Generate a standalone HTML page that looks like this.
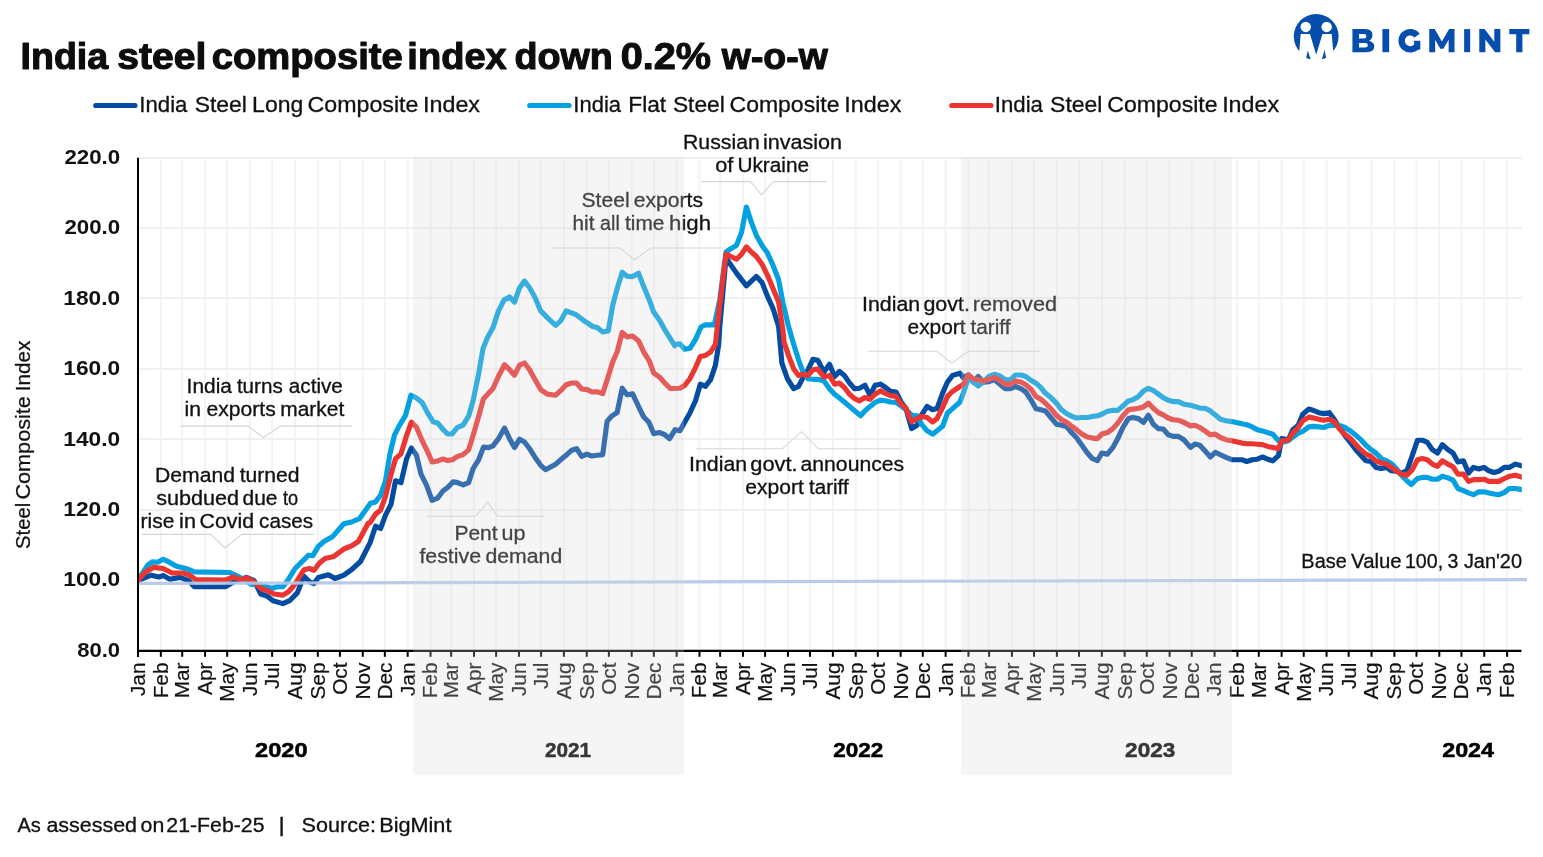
<!DOCTYPE html><html><head><meta charset="utf-8"><title>India steel composite index</title>
<style>html,body{margin:0;padding:0;background:#fff;}svg{display:block}text{font-family:"Liberation Sans",sans-serif;}</style></head><body>
<svg style="will-change:transform" width="1543" height="857" viewBox="0 0 1543 857">
<rect width="1543" height="857" fill="#fff"/>
<text x="20.6" y="69.4" font-size="37.5" font-weight="700" text-anchor="start" fill="#0d0d0d" textLength="87.56" lengthAdjust="spacingAndGlyphs" stroke="#0d0d0d" stroke-width="1.1" stroke-linejoin="round">India</text>
<text x="117.26" y="69.4" font-size="37.5" font-weight="700" text-anchor="start" fill="#0d0d0d" textLength="89.06" lengthAdjust="spacingAndGlyphs" stroke="#0d0d0d" stroke-width="1.1" stroke-linejoin="round">steel</text>
<text x="211.78" y="69.4" font-size="37.5" font-weight="700" text-anchor="start" fill="#0d0d0d" textLength="190.99" lengthAdjust="spacingAndGlyphs" stroke="#0d0d0d" stroke-width="1.1" stroke-linejoin="round">composite</text>
<text x="407.37" y="69.4" font-size="37.5" font-weight="700" text-anchor="start" fill="#0d0d0d" textLength="99.38" lengthAdjust="spacingAndGlyphs" stroke="#0d0d0d" stroke-width="1.1" stroke-linejoin="round">index</text>
<text x="514.49" y="69.4" font-size="37.5" font-weight="700" text-anchor="start" fill="#0d0d0d" textLength="98.42" lengthAdjust="spacingAndGlyphs" stroke="#0d0d0d" stroke-width="1.1" stroke-linejoin="round">down</text>
<text x="620.74" y="69.4" font-size="37.5" font-weight="700" text-anchor="start" fill="#0d0d0d" textLength="90.42" lengthAdjust="spacingAndGlyphs" stroke="#0d0d0d" stroke-width="1.1" stroke-linejoin="round">0.2%</text>
<text x="721.8" y="69.4" font-size="37.5" font-weight="700" text-anchor="start" fill="#0d0d0d" textLength="105.97" lengthAdjust="spacingAndGlyphs" stroke="#0d0d0d" stroke-width="1.1" stroke-linejoin="round">w-o-w</text>
<line x1="95.7" y1="105.45" x2="135.0" y2="105.45" stroke="#034ca1" stroke-width="5.1" stroke-linecap="round"/>
<text x="139.25" y="112" font-size="21.7" font-weight="400" text-anchor="start" fill="#111" textLength="48.19" lengthAdjust="spacingAndGlyphs" stroke="#111" stroke-width="0.3">India</text>
<text x="194.7" y="112" font-size="21.7" font-weight="400" text-anchor="start" fill="#111" textLength="52.27" lengthAdjust="spacingAndGlyphs" stroke="#111" stroke-width="0.3">Steel</text>
<text x="252.14" y="112" font-size="21.7" font-weight="400" text-anchor="start" fill="#111" textLength="51.19" lengthAdjust="spacingAndGlyphs" stroke="#111" stroke-width="0.3">Long</text>
<text x="307.63" y="112" font-size="21.7" font-weight="400" text-anchor="start" fill="#111" textLength="110.84" lengthAdjust="spacingAndGlyphs" stroke="#111" stroke-width="0.3">Composite</text>
<text x="423.05" y="112" font-size="21.7" font-weight="400" text-anchor="start" fill="#111" textLength="56.98" lengthAdjust="spacingAndGlyphs" stroke="#111" stroke-width="0.3">Index</text>
<line x1="529.7" y1="105.45" x2="569.1" y2="105.45" stroke="#03a1e1" stroke-width="5.1" stroke-linecap="round"/>
<text x="573.37" y="112" font-size="21.7" font-weight="400" text-anchor="start" fill="#111" textLength="47.68" lengthAdjust="spacingAndGlyphs" stroke="#111" stroke-width="0.3">India</text>
<text x="628.25" y="112" font-size="21.7" font-weight="400" text-anchor="start" fill="#111" textLength="37.87" lengthAdjust="spacingAndGlyphs" stroke="#111" stroke-width="0.3">Flat</text>
<text x="672.9" y="112" font-size="21.7" font-weight="400" text-anchor="start" fill="#111" textLength="51.96" lengthAdjust="spacingAndGlyphs" stroke="#111" stroke-width="0.3">Steel</text>
<text x="729.54" y="112" font-size="21.7" font-weight="400" text-anchor="start" fill="#111" textLength="109.93" lengthAdjust="spacingAndGlyphs" stroke="#111" stroke-width="0.3">Composite</text>
<text x="844.35" y="112" font-size="21.7" font-weight="400" text-anchor="start" fill="#111" textLength="56.98" lengthAdjust="spacingAndGlyphs" stroke="#111" stroke-width="0.3">Index</text>
<line x1="951.7" y1="105.45" x2="991.0" y2="105.45" stroke="#ea3531" stroke-width="5.1" stroke-linecap="round"/>
<text x="994.75" y="112" font-size="21.7" font-weight="400" text-anchor="start" fill="#111" textLength="48.19" lengthAdjust="spacingAndGlyphs" stroke="#111" stroke-width="0.3">India</text>
<text x="1050.1" y="112" font-size="21.7" font-weight="400" text-anchor="start" fill="#111" textLength="52.37" lengthAdjust="spacingAndGlyphs" stroke="#111" stroke-width="0.3">Steel</text>
<text x="1107.34" y="112" font-size="21.7" font-weight="400" text-anchor="start" fill="#111" textLength="110.23" lengthAdjust="spacingAndGlyphs" stroke="#111" stroke-width="0.3">Composite</text>
<text x="1222.15" y="112" font-size="21.7" font-weight="400" text-anchor="start" fill="#111" textLength="56.98" lengthAdjust="spacingAndGlyphs" stroke="#111" stroke-width="0.3">Index</text>
<line x1="160.84" y1="157" x2="160.84" y2="649.5" stroke="#f3f3f3" stroke-width="1.9"/>
<line x1="182.21" y1="157" x2="182.21" y2="649.5" stroke="#f3f3f3" stroke-width="1.9"/>
<line x1="205.06" y1="157" x2="205.06" y2="649.5" stroke="#f3f3f3" stroke-width="1.9"/>
<line x1="227.16" y1="157" x2="227.16" y2="649.5" stroke="#f3f3f3" stroke-width="1.9"/>
<line x1="250.00" y1="157" x2="250.00" y2="649.5" stroke="#f3f3f3" stroke-width="1.9"/>
<line x1="272.11" y1="157" x2="272.11" y2="649.5" stroke="#f3f3f3" stroke-width="1.9"/>
<line x1="294.95" y1="157" x2="294.95" y2="649.5" stroke="#f3f3f3" stroke-width="1.9"/>
<line x1="317.80" y1="157" x2="317.80" y2="649.5" stroke="#f3f3f3" stroke-width="1.9"/>
<line x1="339.90" y1="157" x2="339.90" y2="649.5" stroke="#f3f3f3" stroke-width="1.9"/>
<line x1="362.75" y1="157" x2="362.75" y2="649.5" stroke="#f3f3f3" stroke-width="1.9"/>
<line x1="384.85" y1="157" x2="384.85" y2="649.5" stroke="#f3f3f3" stroke-width="1.9"/>
<line x1="407.69" y1="157" x2="407.69" y2="649.5" stroke="#f3f3f3" stroke-width="1.9"/>
<line x1="430.54" y1="157" x2="430.54" y2="649.5" stroke="#f3f3f3" stroke-width="1.9"/>
<line x1="451.17" y1="157" x2="451.17" y2="649.5" stroke="#f3f3f3" stroke-width="1.9"/>
<line x1="474.01" y1="157" x2="474.01" y2="649.5" stroke="#f3f3f3" stroke-width="1.9"/>
<line x1="496.12" y1="157" x2="496.12" y2="649.5" stroke="#f3f3f3" stroke-width="1.9"/>
<line x1="518.96" y1="157" x2="518.96" y2="649.5" stroke="#f3f3f3" stroke-width="1.9"/>
<line x1="541.07" y1="157" x2="541.07" y2="649.5" stroke="#f3f3f3" stroke-width="1.9"/>
<line x1="563.91" y1="157" x2="563.91" y2="649.5" stroke="#f3f3f3" stroke-width="1.9"/>
<line x1="586.75" y1="157" x2="586.75" y2="649.5" stroke="#f3f3f3" stroke-width="1.9"/>
<line x1="608.86" y1="157" x2="608.86" y2="649.5" stroke="#f3f3f3" stroke-width="1.9"/>
<line x1="631.70" y1="157" x2="631.70" y2="649.5" stroke="#f3f3f3" stroke-width="1.9"/>
<line x1="653.81" y1="157" x2="653.81" y2="649.5" stroke="#f3f3f3" stroke-width="1.9"/>
<line x1="676.65" y1="157" x2="676.65" y2="649.5" stroke="#f3f3f3" stroke-width="1.9"/>
<line x1="699.49" y1="157" x2="699.49" y2="649.5" stroke="#f3f3f3" stroke-width="1.9"/>
<line x1="720.13" y1="157" x2="720.13" y2="649.5" stroke="#f3f3f3" stroke-width="1.9"/>
<line x1="742.97" y1="157" x2="742.97" y2="649.5" stroke="#f3f3f3" stroke-width="1.9"/>
<line x1="765.08" y1="157" x2="765.08" y2="649.5" stroke="#f3f3f3" stroke-width="1.9"/>
<line x1="787.92" y1="157" x2="787.92" y2="649.5" stroke="#f3f3f3" stroke-width="1.9"/>
<line x1="810.03" y1="157" x2="810.03" y2="649.5" stroke="#f3f3f3" stroke-width="1.9"/>
<line x1="832.87" y1="157" x2="832.87" y2="649.5" stroke="#f3f3f3" stroke-width="1.9"/>
<line x1="855.71" y1="157" x2="855.71" y2="649.5" stroke="#f3f3f3" stroke-width="1.9"/>
<line x1="877.82" y1="157" x2="877.82" y2="649.5" stroke="#f3f3f3" stroke-width="1.9"/>
<line x1="900.66" y1="157" x2="900.66" y2="649.5" stroke="#f3f3f3" stroke-width="1.9"/>
<line x1="922.77" y1="157" x2="922.77" y2="649.5" stroke="#f3f3f3" stroke-width="1.9"/>
<line x1="945.61" y1="157" x2="945.61" y2="649.5" stroke="#f3f3f3" stroke-width="1.9"/>
<line x1="968.45" y1="157" x2="968.45" y2="649.5" stroke="#f3f3f3" stroke-width="1.9"/>
<line x1="989.08" y1="157" x2="989.08" y2="649.5" stroke="#f3f3f3" stroke-width="1.9"/>
<line x1="1011.93" y1="157" x2="1011.93" y2="649.5" stroke="#f3f3f3" stroke-width="1.9"/>
<line x1="1034.03" y1="157" x2="1034.03" y2="649.5" stroke="#f3f3f3" stroke-width="1.9"/>
<line x1="1056.88" y1="157" x2="1056.88" y2="649.5" stroke="#f3f3f3" stroke-width="1.9"/>
<line x1="1078.98" y1="157" x2="1078.98" y2="649.5" stroke="#f3f3f3" stroke-width="1.9"/>
<line x1="1101.83" y1="157" x2="1101.83" y2="649.5" stroke="#f3f3f3" stroke-width="1.9"/>
<line x1="1124.67" y1="157" x2="1124.67" y2="649.5" stroke="#f3f3f3" stroke-width="1.9"/>
<line x1="1146.78" y1="157" x2="1146.78" y2="649.5" stroke="#f3f3f3" stroke-width="1.9"/>
<line x1="1169.62" y1="157" x2="1169.62" y2="649.5" stroke="#f3f3f3" stroke-width="1.9"/>
<line x1="1191.72" y1="157" x2="1191.72" y2="649.5" stroke="#f3f3f3" stroke-width="1.9"/>
<line x1="1214.57" y1="157" x2="1214.57" y2="649.5" stroke="#f3f3f3" stroke-width="1.9"/>
<line x1="1237.41" y1="157" x2="1237.41" y2="649.5" stroke="#f3f3f3" stroke-width="1.9"/>
<line x1="1258.78" y1="157" x2="1258.78" y2="649.5" stroke="#f3f3f3" stroke-width="1.9"/>
<line x1="1281.62" y1="157" x2="1281.62" y2="649.5" stroke="#f3f3f3" stroke-width="1.9"/>
<line x1="1303.73" y1="157" x2="1303.73" y2="649.5" stroke="#f3f3f3" stroke-width="1.9"/>
<line x1="1326.57" y1="157" x2="1326.57" y2="649.5" stroke="#f3f3f3" stroke-width="1.9"/>
<line x1="1348.68" y1="157" x2="1348.68" y2="649.5" stroke="#f3f3f3" stroke-width="1.9"/>
<line x1="1371.52" y1="157" x2="1371.52" y2="649.5" stroke="#f3f3f3" stroke-width="1.9"/>
<line x1="1394.36" y1="157" x2="1394.36" y2="649.5" stroke="#f3f3f3" stroke-width="1.9"/>
<line x1="1416.47" y1="157" x2="1416.47" y2="649.5" stroke="#f3f3f3" stroke-width="1.9"/>
<line x1="1439.31" y1="157" x2="1439.31" y2="649.5" stroke="#f3f3f3" stroke-width="1.9"/>
<line x1="1461.42" y1="157" x2="1461.42" y2="649.5" stroke="#f3f3f3" stroke-width="1.9"/>
<line x1="1484.26" y1="157" x2="1484.26" y2="649.5" stroke="#f3f3f3" stroke-width="1.9"/>
<line x1="1507.10" y1="157" x2="1507.10" y2="649.5" stroke="#f3f3f3" stroke-width="1.9"/>
<line x1="138.0" y1="510" x2="1521.5" y2="510" stroke="#f0f0f0" stroke-width="2"/>
<line x1="138.0" y1="439" x2="1521.5" y2="439" stroke="#f0f0f0" stroke-width="2"/>
<line x1="138.0" y1="369" x2="1521.5" y2="369" stroke="#f0f0f0" stroke-width="2"/>
<line x1="138.0" y1="298" x2="1521.5" y2="298" stroke="#f0f0f0" stroke-width="2"/>
<line x1="138.0" y1="228" x2="1521.5" y2="228" stroke="#f0f0f0" stroke-width="2"/>
<line x1="138.0" y1="158" x2="1521.5" y2="158" stroke="#f0f0f0" stroke-width="2"/>
<clipPath id="pc"><rect x="138" y="150" width="1383.8" height="500"/></clipPath><g clip-path="url(#pc)">
<polyline points="137.8,580.7 151.1,575.2 158.8,577.0 163.2,575.6 169.9,579.2 179.9,577.4 188.7,580.7 194.3,586.7 225.3,586.7 234.2,581.8 246.4,577.4 254.1,580.7 260.8,594.0 267.4,596.2 273.0,600.7 282.9,603.6 289.6,600.7 297.3,592.9 304.0,576.3 309.5,581.8 314.0,583.6 318.4,577.4 328.4,574.8 335.0,578.5 343.9,575.2 351.6,569.7 360.5,561.5 370.0,542.9 375.5,526.2 380.6,528.5 385.5,515.2 391.1,504.1 395.5,480.8 401.0,482.6 406.6,458.7 411.4,448.0 416.5,455.3 421.0,474.2 426.5,485.2 432.1,500.3 437.6,498.1 443.1,490.8 447.6,487.5 453.1,481.9 457.5,482.6 463.1,484.8 468.6,482.6 473.1,468.6 478.6,459.8 483.5,447.1 488.6,447.6 493.0,445.8 498.5,438.7 504.5,428.1 509.6,438.7 514.5,447.6 519.6,439.1 524.5,442.0 529.6,448.7 535.1,457.5 540.7,465.3 545.5,469.7 555.7,464.2 560.6,459.8 566.1,455.3 571.7,450.2 576.6,448.7 581.7,456.4 586.8,454.2 591.6,456.0 597.2,455.3 602.7,454.7 607.1,421.4 611.6,416.1 617.1,412.6 622.2,388.2 627.1,394.8 632.6,393.9 638.6,406.6 643.7,417.0 648.8,422.1 653.7,433.6 659.2,432.5 664.8,434.7 669.6,438.7 675.1,429.7 679.9,430.8 684.8,421.9 689.9,413.0 695.5,400.8 700.3,384.2 705.4,386.4 710.5,379.8 715.4,365.4 718.7,344.3 719.8,326.3 726.0,258.0 736.5,273.1 746.4,285.9 756.4,276.4 762.0,282.4 767.5,296.4 773.0,308.5 778.6,326.3 781.9,363.2 787.4,378.7 793.6,388.7 798.5,386.4 803.0,377.6 808.0,369.8 812.9,359.4 817.8,360.3 824.0,372.0 829.5,364.3 834.6,376.5 839.5,371.4 844.4,375.4 849.5,383.1 854.6,388.7 859.5,388.2 865.0,385.3 870.1,395.3 875.0,385.3 880.5,384.2 885.6,387.5 890.5,391.3 896.0,392.0 901.1,402.0 906.0,408.6 911.6,428.5 917.1,425.2 921.5,415.2 927.1,406.4 932.6,409.7 937.0,408.6 942.6,393.1 947.5,382.0 952.6,375.4 960.0,373.2 963.3,377.6 968.4,375.0 973.3,382.1 978.2,376.5 983.3,382.1 988.8,381.6 994.4,379.8 999.9,384.3 1005.4,388.7 1010.5,388.7 1015.4,386.5 1020.9,388.7 1025.8,392.0 1030.9,399.8 1036.0,408.7 1040.9,409.8 1045.3,410.9 1050.9,417.5 1056.4,424.2 1061.5,425.3 1066.4,426.4 1071.9,433.0 1076.4,437.5 1081.9,445.2 1087.4,453.0 1092.3,458.5 1097.4,460.7 1101.8,453.0 1107.4,454.1 1112.9,447.4 1117.8,438.6 1122.9,427.5 1128.4,418.6 1132.9,417.5 1138.4,418.6 1143.5,422.4 1148.4,415.3 1153.3,424.2 1158.4,428.6 1163.2,429.0 1168.3,434.8 1173.2,436.4 1178.3,436.4 1183.8,439.7 1190.5,447.4 1194.9,444.1 1199.8,445.2 1204.9,450.8 1210.4,457.0 1215.3,452.3 1220.4,454.8 1226.0,457.4 1231.8,459.7 1241.8,459.7 1246.7,461.5 1252.2,459.7 1257.3,459.2 1262.4,457.0 1267.7,459.2 1272.8,460.8 1278.4,455.7 1281.7,438.6 1288.3,439.7 1292.8,429.8 1298.3,425.3 1302.7,414.2 1308.9,409.1 1313.8,410.5 1318.7,412.7 1323.8,413.6 1329.3,412.7 1334.2,419.3 1339.3,427.5 1344.8,435.3 1350.4,442.4 1355.9,449.7 1360.8,455.2 1365.9,460.8 1371.0,461.5 1375.9,467.4 1381.4,468.5 1386.5,467.4 1391.4,470.8 1396.3,471.2 1401.4,473.0 1406.9,470.8 1412.4,455.2 1417.5,440.2 1422.4,440.2 1427.3,442.4 1432.4,449.7 1437.5,453.0 1442.4,444.6 1447.9,449.7 1453.0,453.0 1457.9,461.9 1463.4,460.8 1468.5,473.0 1473.4,467.4 1478.9,469.0 1484.0,467.4 1488.9,470.8 1493.8,472.5 1498.9,471.2 1504.4,467.4 1509.3,467.4 1515.5,464.1 1521.7,465.9" fill="none" stroke="#034ca1" stroke-width="5.15" stroke-linejoin="round" stroke-linecap="round"/>
<polyline points="137.8,580.7 147.7,565.2 152.2,561.9 157.7,562.3 163.2,559.2 168.8,561.9 176.5,566.3 187.6,569.0 194.3,571.9 229.7,572.5 236.4,575.6 244.1,579.6 250.8,584.1 260.8,585.2 271.8,588.5 277.4,586.7 282.9,586.7 288.5,579.2 295.1,568.5 301.8,561.9 308.4,555.2 312.8,555.7 318.4,546.4 323.9,541.5 332.8,536.4 343.9,523.8 351.6,522.0 359.4,518.7 370.5,503.2 375.5,501.9 380.6,495.2 385.5,480.8 389.9,454.2 394.4,435.4 398.8,426.5 405.5,415.4 411.0,395.2 416.5,398.0 422.1,402.5 427.6,412.9 433.2,421.8 437.6,422.9 443.1,429.5 447.6,434.0 452.0,434.0 457.5,427.3 463.1,425.1 468.6,416.2 473.1,400.7 478.6,374.1 483.0,348.6 487.5,337.5 493.0,327.6 498.5,310.9 504.1,299.9 509.6,297.0 514.5,302.1 519.6,287.7 524.5,281.0 529.6,287.7 535.1,297.7 540.7,310.9 547.3,317.6 555.7,325.4 560.6,320.9 566.1,310.9 576.1,314.7 582.8,319.8 592.7,326.5 597.2,327.6 602.7,332.0 608.3,330.9 612.7,305.4 617.1,288.8 622.2,272.2 627.1,276.2 632.6,276.6 638.6,273.3 643.7,286.6 649.3,299.9 653.7,312.1 659.2,319.8 664.8,329.8 670.3,338.7 674.7,345.7 675.5,344.3 679.9,343.9 684.8,349.2 689.9,348.3 695.5,339.5 701.0,327.0 705.4,324.8 714.3,324.8 719.8,299.7 726.0,252.0 730.9,248.7 736.5,245.4 741.6,232.1 746.4,207.0 751.3,222.1 756.4,235.4 762.0,245.4 767.5,253.1 773.0,265.3 778.6,279.7 783.0,303.0 788.5,326.3 793.0,342.1 798.5,359.8 803.0,372.0 808.0,378.7 812.9,379.3 817.8,379.3 824.0,380.9 829.5,388.7 834.6,394.2 839.5,398.0 844.4,402.0 849.5,406.4 854.6,410.8 860.6,415.7 865.0,410.8 870.1,406.4 875.0,402.4 880.5,400.2 885.6,400.8 890.5,402.0 896.0,402.4 901.1,405.9 906.0,409.7 911.6,415.2 917.1,415.7 921.5,424.1 927.1,430.8 932.6,434.1 937.0,430.8 942.6,426.3 947.5,413.0 952.6,408.6 960.0,402.0 963.3,393.1 968.4,377.6 973.3,382.1 978.2,386.0 983.3,382.1 988.8,376.5 994.4,374.3 999.9,375.9 1005.4,379.8 1010.5,379.8 1015.4,375.0 1020.9,375.0 1025.8,376.5 1030.9,380.3 1036.0,383.2 1040.9,387.6 1045.3,393.1 1050.9,397.6 1056.4,403.1 1061.5,409.8 1066.4,413.5 1071.9,416.4 1076.4,418.0 1081.9,417.5 1087.4,417.5 1092.3,416.4 1097.4,415.7 1101.8,414.2 1107.4,411.3 1112.9,410.4 1117.8,410.4 1122.9,406.0 1128.4,400.9 1132.9,399.8 1138.4,396.5 1143.5,390.9 1148.4,388.3 1153.3,390.5 1158.4,394.2 1163.2,397.6 1168.3,400.2 1173.2,401.6 1178.3,401.6 1183.8,404.2 1190.5,405.3 1194.9,406.4 1199.8,408.2 1204.9,408.2 1210.4,410.9 1215.3,414.9 1220.4,419.3 1226.0,420.8 1231.8,421.6 1241.8,423.8 1246.7,424.7 1252.2,426.9 1257.3,429.8 1262.4,430.9 1267.7,432.6 1272.8,434.2 1278.4,440.8 1281.7,442.4 1288.3,440.8 1292.8,437.1 1298.3,433.1 1302.7,431.3 1308.9,426.9 1313.8,426.4 1318.7,426.9 1323.8,427.5 1329.3,425.3 1334.2,425.3 1339.3,425.3 1344.8,427.5 1350.4,430.9 1355.9,435.3 1360.8,439.7 1365.9,445.3 1371.0,449.7 1375.9,453.0 1381.4,458.6 1386.5,460.8 1391.4,463.7 1396.3,468.5 1401.4,475.2 1406.9,480.7 1411.3,484.5 1417.5,478.5 1422.4,477.4 1427.3,477.4 1432.4,479.2 1437.5,479.2 1442.4,476.3 1447.9,477.9 1453.0,480.1 1457.9,488.5 1463.4,490.7 1468.5,492.9 1473.4,494.7 1478.9,491.8 1484.0,491.8 1488.9,492.9 1493.8,494.0 1498.9,494.7 1504.4,492.5 1509.3,488.5 1515.5,488.5 1521.7,489.6" fill="none" stroke="#03a1e1" stroke-width="5.15" stroke-linejoin="round" stroke-linecap="round"/>
<polyline points="137.8,580.7 145.5,571.9 153.3,567.4 163.2,568.5 172.1,573.0 183.2,573.0 189.8,575.2 195.4,579.6 225.3,580.1 233.1,577.0 240.8,579.6 246.4,577.9 254.1,581.8 260.8,588.5 267.4,590.7 274.1,594.0 282.9,595.1 288.5,591.8 295.1,584.1 304.0,569.7 309.5,568.5 314.0,570.3 319.5,563.0 325.0,558.6 333.9,556.4 343.9,549.0 351.6,545.9 358.3,541.5 368.3,523.1 370.0,522.9 375.5,514.1 380.6,510.1 385.5,496.3 391.1,474.2 395.5,458.7 401.0,453.8 406.6,435.4 411.4,422.1 416.5,427.2 422.1,440.5 427.2,450.9 432.1,462.0 437.6,460.9 442.7,459.1 447.6,460.4 452.4,459.8 457.5,456.4 463.1,454.7 468.6,449.8 473.1,435.4 478.6,416.5 483.5,398.8 493.0,388.5 498.5,376.3 504.5,364.8 509.6,369.7 514.5,375.2 519.6,365.2 524.5,363.0 529.6,369.7 535.1,379.7 540.7,389.6 547.3,394.1 555.7,395.2 560.6,390.7 566.1,384.8 571.7,383.0 576.6,383.0 581.7,389.0 587.2,389.6 591.6,391.8 597.2,391.8 602.7,393.6 608.3,376.3 612.7,361.9 617.1,352.0 622.2,332.4 627.1,336.9 632.6,336.0 638.6,340.9 643.7,352.0 649.3,360.8 653.7,373.0 659.2,376.8 664.8,383.0 670.3,388.5 679.9,388.2 684.8,385.3 689.9,378.7 695.5,367.6 700.3,356.5 705.4,355.4 710.5,352.1 715.4,344.3 719.8,304.1 726.0,254.2 730.9,256.5 736.5,259.3 741.6,254.2 746.4,246.9 751.3,252.0 756.4,256.5 762.0,264.2 767.5,275.3 773.0,288.6 778.6,301.9 783.0,330.7 784.1,342.1 788.5,355.4 793.6,368.7 798.5,375.4 803.0,374.2 808.0,375.4 812.9,369.8 817.8,369.1 824.0,377.1 829.5,375.4 834.6,384.2 839.5,383.1 844.4,387.5 849.5,394.2 854.6,398.6 859.5,400.8 865.0,397.5 870.1,399.3 875.0,394.2 880.5,390.9 885.6,393.5 890.5,395.7 896.0,396.4 901.1,404.2 906.0,408.2 911.6,421.9 917.1,418.6 921.5,416.4 927.1,417.5 932.6,421.9 937.0,418.6 942.6,407.5 947.5,396.4 952.6,391.3 960.0,386.5 963.3,384.3 968.4,375.0 973.3,378.7 978.2,379.8 983.3,380.9 988.8,379.4 994.4,377.6 999.9,380.3 1005.4,384.3 1010.5,384.3 1015.4,380.9 1020.9,382.1 1025.8,384.7 1030.9,389.1 1036.0,396.5 1040.9,399.3 1045.3,403.1 1050.9,408.7 1056.4,415.3 1061.5,419.7 1066.4,422.0 1071.9,426.4 1076.4,429.7 1081.9,434.1 1087.4,437.0 1092.3,438.1 1097.4,438.6 1101.8,434.1 1107.4,432.6 1112.9,428.6 1117.8,423.1 1122.9,415.7 1128.4,409.8 1132.9,409.1 1138.4,408.2 1143.5,406.9 1148.4,403.1 1153.3,408.2 1158.4,412.6 1163.2,414.9 1168.3,418.0 1173.2,419.7 1178.3,420.2 1183.8,422.4 1190.5,425.9 1194.9,425.3 1199.8,427.5 1204.9,430.8 1210.4,434.8 1215.3,434.1 1220.4,437.5 1226.0,439.7 1231.8,440.8 1241.8,443.1 1246.7,443.7 1252.2,443.7 1257.3,444.2 1262.4,444.6 1267.7,446.4 1272.8,447.5 1278.4,448.6 1281.7,440.8 1288.3,440.2 1292.8,433.1 1298.3,427.5 1302.7,420.9 1308.9,417.1 1313.8,418.0 1318.7,419.3 1323.8,420.2 1329.3,419.3 1334.2,421.6 1339.3,428.7 1344.8,434.2 1350.4,438.6 1355.9,444.6 1360.8,449.7 1365.9,454.1 1371.0,456.4 1375.9,460.8 1381.4,463.0 1386.5,464.1 1391.4,467.4 1396.3,470.8 1401.4,474.1 1406.9,475.2 1412.4,469.7 1417.5,459.7 1422.4,458.6 1427.3,459.7 1432.4,464.1 1437.5,466.3 1442.4,460.8 1447.9,464.1 1453.0,466.8 1457.9,474.1 1463.4,474.1 1468.5,481.4 1473.4,479.6 1478.9,479.6 1484.0,479.2 1488.9,481.4 1493.8,481.4 1498.9,481.4 1504.4,478.5 1509.3,476.3 1515.5,475.2 1521.7,477.0" fill="none" stroke="#ea3531" stroke-width="5.15" stroke-linejoin="round" stroke-linecap="round"/>
</g>
<line x1="138" y1="583.4" x2="1527" y2="579.6" stroke="#b4c7e7" stroke-opacity="0.92" stroke-width="3.2"/>
<line x1="138.0" y1="157.7" x2="138.0" y2="657" stroke="#000" stroke-width="2"/>
<line x1="137.0" y1="650.9" x2="1521.5" y2="650.9" stroke="#000" stroke-width="2.1"/>
<line x1="138.00" y1="650" x2="138.00" y2="656.8" stroke="#000" stroke-width="2"/>
<text transform="translate(144.90,662.5) rotate(-90)" font-size="20.8" text-anchor="end" fill="#111" stroke="#111" stroke-width="0.2">Jan</text>
<line x1="160.84" y1="650" x2="160.84" y2="656.8" stroke="#000" stroke-width="2"/>
<text transform="translate(167.74,662.5) rotate(-90)" font-size="20.8" text-anchor="end" fill="#111" stroke="#111" stroke-width="0.2">Feb</text>
<line x1="182.21" y1="650" x2="182.21" y2="656.8" stroke="#000" stroke-width="2"/>
<text transform="translate(189.11,662.5) rotate(-90)" font-size="20.8" text-anchor="end" fill="#111" stroke="#111" stroke-width="0.2">Mar</text>
<line x1="205.06" y1="650" x2="205.06" y2="656.8" stroke="#000" stroke-width="2"/>
<text transform="translate(211.96,662.5) rotate(-90)" font-size="20.8" text-anchor="end" fill="#111" stroke="#111" stroke-width="0.2">Apr</text>
<line x1="227.16" y1="650" x2="227.16" y2="656.8" stroke="#000" stroke-width="2"/>
<text transform="translate(234.06,662.5) rotate(-90)" font-size="20.8" text-anchor="end" fill="#111" stroke="#111" stroke-width="0.2">May</text>
<line x1="250.00" y1="650" x2="250.00" y2="656.8" stroke="#000" stroke-width="2"/>
<text transform="translate(256.90,662.5) rotate(-90)" font-size="20.8" text-anchor="end" fill="#111" stroke="#111" stroke-width="0.2">Jun</text>
<line x1="272.11" y1="650" x2="272.11" y2="656.8" stroke="#000" stroke-width="2"/>
<text transform="translate(279.01,662.5) rotate(-90)" font-size="20.8" text-anchor="end" fill="#111" stroke="#111" stroke-width="0.2">Jul</text>
<line x1="294.95" y1="650" x2="294.95" y2="656.8" stroke="#000" stroke-width="2"/>
<text transform="translate(301.85,662.5) rotate(-90)" font-size="20.8" text-anchor="end" fill="#111" stroke="#111" stroke-width="0.2">Aug</text>
<line x1="317.80" y1="650" x2="317.80" y2="656.8" stroke="#000" stroke-width="2"/>
<text transform="translate(324.70,662.5) rotate(-90)" font-size="20.8" text-anchor="end" fill="#111" stroke="#111" stroke-width="0.2">Sep</text>
<line x1="339.90" y1="650" x2="339.90" y2="656.8" stroke="#000" stroke-width="2"/>
<text transform="translate(346.80,662.5) rotate(-90)" font-size="20.8" text-anchor="end" fill="#111" stroke="#111" stroke-width="0.2">Oct</text>
<line x1="362.75" y1="650" x2="362.75" y2="656.8" stroke="#000" stroke-width="2"/>
<text transform="translate(369.65,662.5) rotate(-90)" font-size="20.8" text-anchor="end" fill="#111" stroke="#111" stroke-width="0.2">Nov</text>
<line x1="384.85" y1="650" x2="384.85" y2="656.8" stroke="#000" stroke-width="2"/>
<text transform="translate(391.75,662.5) rotate(-90)" font-size="20.8" text-anchor="end" fill="#111" stroke="#111" stroke-width="0.2">Dec</text>
<line x1="407.69" y1="650" x2="407.69" y2="656.8" stroke="#000" stroke-width="2"/>
<text transform="translate(414.59,662.5) rotate(-90)" font-size="20.8" text-anchor="end" fill="#111" stroke="#111" stroke-width="0.2">Jan</text>
<line x1="430.54" y1="650" x2="430.54" y2="656.8" stroke="#000" stroke-width="2"/>
<text transform="translate(437.44,662.5) rotate(-90)" font-size="20.8" text-anchor="end" fill="#111" stroke="#111" stroke-width="0.2">Feb</text>
<line x1="451.17" y1="650" x2="451.17" y2="656.8" stroke="#000" stroke-width="2"/>
<text transform="translate(458.07,662.5) rotate(-90)" font-size="20.8" text-anchor="end" fill="#111" stroke="#111" stroke-width="0.2">Mar</text>
<line x1="474.01" y1="650" x2="474.01" y2="656.8" stroke="#000" stroke-width="2"/>
<text transform="translate(480.91,662.5) rotate(-90)" font-size="20.8" text-anchor="end" fill="#111" stroke="#111" stroke-width="0.2">Apr</text>
<line x1="496.12" y1="650" x2="496.12" y2="656.8" stroke="#000" stroke-width="2"/>
<text transform="translate(503.02,662.5) rotate(-90)" font-size="20.8" text-anchor="end" fill="#111" stroke="#111" stroke-width="0.2">May</text>
<line x1="518.96" y1="650" x2="518.96" y2="656.8" stroke="#000" stroke-width="2"/>
<text transform="translate(525.86,662.5) rotate(-90)" font-size="20.8" text-anchor="end" fill="#111" stroke="#111" stroke-width="0.2">Jun</text>
<line x1="541.07" y1="650" x2="541.07" y2="656.8" stroke="#000" stroke-width="2"/>
<text transform="translate(547.97,662.5) rotate(-90)" font-size="20.8" text-anchor="end" fill="#111" stroke="#111" stroke-width="0.2">Jul</text>
<line x1="563.91" y1="650" x2="563.91" y2="656.8" stroke="#000" stroke-width="2"/>
<text transform="translate(570.81,662.5) rotate(-90)" font-size="20.8" text-anchor="end" fill="#111" stroke="#111" stroke-width="0.2">Aug</text>
<line x1="586.75" y1="650" x2="586.75" y2="656.8" stroke="#000" stroke-width="2"/>
<text transform="translate(593.65,662.5) rotate(-90)" font-size="20.8" text-anchor="end" fill="#111" stroke="#111" stroke-width="0.2">Sep</text>
<line x1="608.86" y1="650" x2="608.86" y2="656.8" stroke="#000" stroke-width="2"/>
<text transform="translate(615.76,662.5) rotate(-90)" font-size="20.8" text-anchor="end" fill="#111" stroke="#111" stroke-width="0.2">Oct</text>
<line x1="631.70" y1="650" x2="631.70" y2="656.8" stroke="#000" stroke-width="2"/>
<text transform="translate(638.60,662.5) rotate(-90)" font-size="20.8" text-anchor="end" fill="#111" stroke="#111" stroke-width="0.2">Nov</text>
<line x1="653.81" y1="650" x2="653.81" y2="656.8" stroke="#000" stroke-width="2"/>
<text transform="translate(660.71,662.5) rotate(-90)" font-size="20.8" text-anchor="end" fill="#111" stroke="#111" stroke-width="0.2">Dec</text>
<line x1="676.65" y1="650" x2="676.65" y2="656.8" stroke="#000" stroke-width="2"/>
<text transform="translate(683.55,662.5) rotate(-90)" font-size="20.8" text-anchor="end" fill="#111" stroke="#111" stroke-width="0.2">Jan</text>
<line x1="699.49" y1="650" x2="699.49" y2="656.8" stroke="#000" stroke-width="2"/>
<text transform="translate(706.39,662.5) rotate(-90)" font-size="20.8" text-anchor="end" fill="#111" stroke="#111" stroke-width="0.2">Feb</text>
<line x1="720.13" y1="650" x2="720.13" y2="656.8" stroke="#000" stroke-width="2"/>
<text transform="translate(727.03,662.5) rotate(-90)" font-size="20.8" text-anchor="end" fill="#111" stroke="#111" stroke-width="0.2">Mar</text>
<line x1="742.97" y1="650" x2="742.97" y2="656.8" stroke="#000" stroke-width="2"/>
<text transform="translate(749.87,662.5) rotate(-90)" font-size="20.8" text-anchor="end" fill="#111" stroke="#111" stroke-width="0.2">Apr</text>
<line x1="765.08" y1="650" x2="765.08" y2="656.8" stroke="#000" stroke-width="2"/>
<text transform="translate(771.98,662.5) rotate(-90)" font-size="20.8" text-anchor="end" fill="#111" stroke="#111" stroke-width="0.2">May</text>
<line x1="787.92" y1="650" x2="787.92" y2="656.8" stroke="#000" stroke-width="2"/>
<text transform="translate(794.82,662.5) rotate(-90)" font-size="20.8" text-anchor="end" fill="#111" stroke="#111" stroke-width="0.2">Jun</text>
<line x1="810.03" y1="650" x2="810.03" y2="656.8" stroke="#000" stroke-width="2"/>
<text transform="translate(816.93,662.5) rotate(-90)" font-size="20.8" text-anchor="end" fill="#111" stroke="#111" stroke-width="0.2">Jul</text>
<line x1="832.87" y1="650" x2="832.87" y2="656.8" stroke="#000" stroke-width="2"/>
<text transform="translate(839.77,662.5) rotate(-90)" font-size="20.8" text-anchor="end" fill="#111" stroke="#111" stroke-width="0.2">Aug</text>
<line x1="855.71" y1="650" x2="855.71" y2="656.8" stroke="#000" stroke-width="2"/>
<text transform="translate(862.61,662.5) rotate(-90)" font-size="20.8" text-anchor="end" fill="#111" stroke="#111" stroke-width="0.2">Sep</text>
<line x1="877.82" y1="650" x2="877.82" y2="656.8" stroke="#000" stroke-width="2"/>
<text transform="translate(884.72,662.5) rotate(-90)" font-size="20.8" text-anchor="end" fill="#111" stroke="#111" stroke-width="0.2">Oct</text>
<line x1="900.66" y1="650" x2="900.66" y2="656.8" stroke="#000" stroke-width="2"/>
<text transform="translate(907.56,662.5) rotate(-90)" font-size="20.8" text-anchor="end" fill="#111" stroke="#111" stroke-width="0.2">Nov</text>
<line x1="922.77" y1="650" x2="922.77" y2="656.8" stroke="#000" stroke-width="2"/>
<text transform="translate(929.67,662.5) rotate(-90)" font-size="20.8" text-anchor="end" fill="#111" stroke="#111" stroke-width="0.2">Dec</text>
<line x1="945.61" y1="650" x2="945.61" y2="656.8" stroke="#000" stroke-width="2"/>
<text transform="translate(952.51,662.5) rotate(-90)" font-size="20.8" text-anchor="end" fill="#111" stroke="#111" stroke-width="0.2">Jan</text>
<line x1="968.45" y1="650" x2="968.45" y2="656.8" stroke="#000" stroke-width="2"/>
<text transform="translate(975.35,662.5) rotate(-90)" font-size="20.8" text-anchor="end" fill="#111" stroke="#111" stroke-width="0.2">Feb</text>
<line x1="989.08" y1="650" x2="989.08" y2="656.8" stroke="#000" stroke-width="2"/>
<text transform="translate(995.98,662.5) rotate(-90)" font-size="20.8" text-anchor="end" fill="#111" stroke="#111" stroke-width="0.2">Mar</text>
<line x1="1011.93" y1="650" x2="1011.93" y2="656.8" stroke="#000" stroke-width="2"/>
<text transform="translate(1018.83,662.5) rotate(-90)" font-size="20.8" text-anchor="end" fill="#111" stroke="#111" stroke-width="0.2">Apr</text>
<line x1="1034.03" y1="650" x2="1034.03" y2="656.8" stroke="#000" stroke-width="2"/>
<text transform="translate(1040.93,662.5) rotate(-90)" font-size="20.8" text-anchor="end" fill="#111" stroke="#111" stroke-width="0.2">May</text>
<line x1="1056.88" y1="650" x2="1056.88" y2="656.8" stroke="#000" stroke-width="2"/>
<text transform="translate(1063.78,662.5) rotate(-90)" font-size="20.8" text-anchor="end" fill="#111" stroke="#111" stroke-width="0.2">Jun</text>
<line x1="1078.98" y1="650" x2="1078.98" y2="656.8" stroke="#000" stroke-width="2"/>
<text transform="translate(1085.88,662.5) rotate(-90)" font-size="20.8" text-anchor="end" fill="#111" stroke="#111" stroke-width="0.2">Jul</text>
<line x1="1101.83" y1="650" x2="1101.83" y2="656.8" stroke="#000" stroke-width="2"/>
<text transform="translate(1108.73,662.5) rotate(-90)" font-size="20.8" text-anchor="end" fill="#111" stroke="#111" stroke-width="0.2">Aug</text>
<line x1="1124.67" y1="650" x2="1124.67" y2="656.8" stroke="#000" stroke-width="2"/>
<text transform="translate(1131.57,662.5) rotate(-90)" font-size="20.8" text-anchor="end" fill="#111" stroke="#111" stroke-width="0.2">Sep</text>
<line x1="1146.78" y1="650" x2="1146.78" y2="656.8" stroke="#000" stroke-width="2"/>
<text transform="translate(1153.68,662.5) rotate(-90)" font-size="20.8" text-anchor="end" fill="#111" stroke="#111" stroke-width="0.2">Oct</text>
<line x1="1169.62" y1="650" x2="1169.62" y2="656.8" stroke="#000" stroke-width="2"/>
<text transform="translate(1176.52,662.5) rotate(-90)" font-size="20.8" text-anchor="end" fill="#111" stroke="#111" stroke-width="0.2">Nov</text>
<line x1="1191.72" y1="650" x2="1191.72" y2="656.8" stroke="#000" stroke-width="2"/>
<text transform="translate(1198.62,662.5) rotate(-90)" font-size="20.8" text-anchor="end" fill="#111" stroke="#111" stroke-width="0.2">Dec</text>
<line x1="1214.57" y1="650" x2="1214.57" y2="656.8" stroke="#000" stroke-width="2"/>
<text transform="translate(1221.47,662.5) rotate(-90)" font-size="20.8" text-anchor="end" fill="#111" stroke="#111" stroke-width="0.2">Jan</text>
<line x1="1237.41" y1="650" x2="1237.41" y2="656.8" stroke="#000" stroke-width="2"/>
<text transform="translate(1244.31,662.5) rotate(-90)" font-size="20.8" text-anchor="end" fill="#111" stroke="#111" stroke-width="0.2">Feb</text>
<line x1="1258.78" y1="650" x2="1258.78" y2="656.8" stroke="#000" stroke-width="2"/>
<text transform="translate(1265.68,662.5) rotate(-90)" font-size="20.8" text-anchor="end" fill="#111" stroke="#111" stroke-width="0.2">Mar</text>
<line x1="1281.62" y1="650" x2="1281.62" y2="656.8" stroke="#000" stroke-width="2"/>
<text transform="translate(1288.52,662.5) rotate(-90)" font-size="20.8" text-anchor="end" fill="#111" stroke="#111" stroke-width="0.2">Apr</text>
<line x1="1303.73" y1="650" x2="1303.73" y2="656.8" stroke="#000" stroke-width="2"/>
<text transform="translate(1310.63,662.5) rotate(-90)" font-size="20.8" text-anchor="end" fill="#111" stroke="#111" stroke-width="0.2">May</text>
<line x1="1326.57" y1="650" x2="1326.57" y2="656.8" stroke="#000" stroke-width="2"/>
<text transform="translate(1333.47,662.5) rotate(-90)" font-size="20.8" text-anchor="end" fill="#111" stroke="#111" stroke-width="0.2">Jun</text>
<line x1="1348.68" y1="650" x2="1348.68" y2="656.8" stroke="#000" stroke-width="2"/>
<text transform="translate(1355.58,662.5) rotate(-90)" font-size="20.8" text-anchor="end" fill="#111" stroke="#111" stroke-width="0.2">Jul</text>
<line x1="1371.52" y1="650" x2="1371.52" y2="656.8" stroke="#000" stroke-width="2"/>
<text transform="translate(1378.42,662.5) rotate(-90)" font-size="20.8" text-anchor="end" fill="#111" stroke="#111" stroke-width="0.2">Aug</text>
<line x1="1394.36" y1="650" x2="1394.36" y2="656.8" stroke="#000" stroke-width="2"/>
<text transform="translate(1401.26,662.5) rotate(-90)" font-size="20.8" text-anchor="end" fill="#111" stroke="#111" stroke-width="0.2">Sep</text>
<line x1="1416.47" y1="650" x2="1416.47" y2="656.8" stroke="#000" stroke-width="2"/>
<text transform="translate(1423.37,662.5) rotate(-90)" font-size="20.8" text-anchor="end" fill="#111" stroke="#111" stroke-width="0.2">Oct</text>
<line x1="1439.31" y1="650" x2="1439.31" y2="656.8" stroke="#000" stroke-width="2"/>
<text transform="translate(1446.21,662.5) rotate(-90)" font-size="20.8" text-anchor="end" fill="#111" stroke="#111" stroke-width="0.2">Nov</text>
<line x1="1461.42" y1="650" x2="1461.42" y2="656.8" stroke="#000" stroke-width="2"/>
<text transform="translate(1468.32,662.5) rotate(-90)" font-size="20.8" text-anchor="end" fill="#111" stroke="#111" stroke-width="0.2">Dec</text>
<line x1="1484.26" y1="650" x2="1484.26" y2="656.8" stroke="#000" stroke-width="2"/>
<text transform="translate(1491.16,662.5) rotate(-90)" font-size="20.8" text-anchor="end" fill="#111" stroke="#111" stroke-width="0.2">Jan</text>
<line x1="1507.10" y1="650" x2="1507.10" y2="656.8" stroke="#000" stroke-width="2"/>
<text transform="translate(1514.00,662.5) rotate(-90)" font-size="20.8" text-anchor="end" fill="#111" stroke="#111" stroke-width="0.2">Feb</text>
<text x="77.2" y="656.87" font-size="20.3" font-weight="700" text-anchor="start" fill="#111" textLength="42.9" lengthAdjust="spacingAndGlyphs">80.0</text>
<text x="63.28" y="586.46" font-size="20.3" font-weight="700" text-anchor="start" fill="#111" textLength="56.83" lengthAdjust="spacingAndGlyphs">100.0</text>
<text x="63.28" y="516.05" font-size="20.3" font-weight="700" text-anchor="start" fill="#111" textLength="56.83" lengthAdjust="spacingAndGlyphs">120.0</text>
<text x="63.28" y="445.64" font-size="20.3" font-weight="700" text-anchor="start" fill="#111" textLength="56.83" lengthAdjust="spacingAndGlyphs">140.0</text>
<text x="63.28" y="375.23" font-size="20.3" font-weight="700" text-anchor="start" fill="#111" textLength="56.83" lengthAdjust="spacingAndGlyphs">160.0</text>
<text x="63.28" y="304.82" font-size="20.3" font-weight="700" text-anchor="start" fill="#111" textLength="56.83" lengthAdjust="spacingAndGlyphs">180.0</text>
<text x="64.4" y="234.41" font-size="20.3" font-weight="700" text-anchor="start" fill="#111" textLength="55.71" lengthAdjust="spacingAndGlyphs">200.0</text>
<text x="64.4" y="164.0" font-size="20.3" font-weight="700" text-anchor="start" fill="#111" textLength="55.71" lengthAdjust="spacingAndGlyphs">220.0</text>
<g transform="translate(30.3,0) rotate(-90)">
<text x="-549.0" y="0" font-size="20.5" font-weight="400" text-anchor="start" fill="#111" textLength="46.25" lengthAdjust="spacingAndGlyphs" stroke="#111" stroke-width="0.25">Steel</text>
<text x="-499.56" y="0" font-size="20.5" font-weight="400" text-anchor="start" fill="#111" textLength="103.38" lengthAdjust="spacingAndGlyphs" stroke="#111" stroke-width="0.25">Composite</text>
<text x="-391.31" y="0" font-size="20.5" font-weight="400" text-anchor="start" fill="#111" textLength="50.65" lengthAdjust="spacingAndGlyphs" stroke="#111" stroke-width="0.25">Index</text>
</g>
<text x="255.0" y="756.8" font-size="20.3" font-weight="700" text-anchor="start" fill="#000" textLength="52.53" lengthAdjust="spacingAndGlyphs" stroke="#000" stroke-width="0.5">2020</text>
<text x="545.0" y="756.8" font-size="20.3" font-weight="700" text-anchor="start" fill="#000" textLength="45.98" lengthAdjust="spacingAndGlyphs" stroke="#000" stroke-width="0.5">2021</text>
<text x="833.2" y="756.8" font-size="20.3" font-weight="700" text-anchor="start" fill="#000" textLength="50.01" lengthAdjust="spacingAndGlyphs" stroke="#000" stroke-width="0.5">2022</text>
<text x="1125.1" y="756.8" font-size="20.3" font-weight="700" text-anchor="start" fill="#000" textLength="50.21" lengthAdjust="spacingAndGlyphs" stroke="#000" stroke-width="0.5">2023</text>
<text x="1442.2" y="756.8" font-size="20.3" font-weight="700" text-anchor="start" fill="#000" textLength="51.87" lengthAdjust="spacingAndGlyphs" stroke="#000" stroke-width="0.5">2024</text>
<text x="186.64" y="393" font-size="19.7" font-weight="400" text-anchor="start" fill="#111" textLength="45.31" lengthAdjust="spacingAndGlyphs" stroke="#111" stroke-width="0.3">India</text>
<text x="236.9" y="393" font-size="19.7" font-weight="400" text-anchor="start" fill="#111" textLength="45.84" lengthAdjust="spacingAndGlyphs" stroke="#111" stroke-width="0.3">turns</text>
<text x="288.8" y="393" font-size="19.7" font-weight="400" text-anchor="start" fill="#111" textLength="54.05" lengthAdjust="spacingAndGlyphs" stroke="#111" stroke-width="0.3">active</text>
<text x="184.52" y="416" font-size="19.7" font-weight="400" text-anchor="start" fill="#111" textLength="16.5" lengthAdjust="spacingAndGlyphs" stroke="#111" stroke-width="0.3">in</text>
<text x="206.6" y="416" font-size="19.7" font-weight="400" text-anchor="start" fill="#111" textLength="69.13" lengthAdjust="spacingAndGlyphs" stroke="#111" stroke-width="0.3">exports</text>
<text x="280.24" y="416" font-size="19.7" font-weight="400" text-anchor="start" fill="#111" textLength="64.0" lengthAdjust="spacingAndGlyphs" stroke="#111" stroke-width="0.3">market</text>
<polyline points="180.2,426.1 247.9,426.1 263.6,437.5 280.6,426.1 352.5,426.1" fill="none" stroke="#d6d6d6" stroke-width="1.1"/>
<text x="155.13" y="482" font-size="19.7" font-weight="400" text-anchor="start" fill="#111" textLength="79.79" lengthAdjust="spacingAndGlyphs" stroke="#111" stroke-width="0.3">Demand</text>
<text x="239.7" y="482" font-size="19.7" font-weight="400" text-anchor="start" fill="#111" textLength="59.92" lengthAdjust="spacingAndGlyphs" stroke="#111" stroke-width="0.3">turned</text>
<text x="156.2" y="505" font-size="19.7" font-weight="400" text-anchor="start" fill="#111" textLength="82.94" lengthAdjust="spacingAndGlyphs" stroke="#111" stroke-width="0.3">subdued</text>
<text x="242.5" y="505" font-size="19.7" font-weight="400" text-anchor="start" fill="#111" textLength="35.05" lengthAdjust="spacingAndGlyphs" stroke="#111" stroke-width="0.3">due</text>
<text x="282.9" y="505" font-size="19.7" font-weight="400" text-anchor="start" fill="#111" textLength="15.15" lengthAdjust="spacingAndGlyphs" stroke="#111" stroke-width="0.3">to</text>
<text x="140.64" y="528" font-size="19.7" font-weight="400" text-anchor="start" fill="#111" textLength="33.71" lengthAdjust="spacingAndGlyphs" stroke="#111" stroke-width="0.3">rise</text>
<text x="179.1" y="528" font-size="19.7" font-weight="400" text-anchor="start" fill="#111" textLength="16.84" lengthAdjust="spacingAndGlyphs" stroke="#111" stroke-width="0.3">in</text>
<text x="199.62" y="528" font-size="19.7" font-weight="400" text-anchor="start" fill="#111" textLength="54.41" lengthAdjust="spacingAndGlyphs" stroke="#111" stroke-width="0.3">Covid</text>
<text x="259.1" y="528" font-size="19.7" font-weight="400" text-anchor="start" fill="#111" textLength="54.04" lengthAdjust="spacingAndGlyphs" stroke="#111" stroke-width="0.3">cases</text>
<polyline points="141.7,534.4 210.6,534.4 225,548 241.6,534.4 313.8,534.4" fill="none" stroke="#d6d6d6" stroke-width="1.1"/>
<text x="454.44" y="540" font-size="19.7" font-weight="400" text-anchor="start" fill="#111" textLength="43.1" lengthAdjust="spacingAndGlyphs" stroke="#111" stroke-width="0.3">Pent</text>
<text x="501.51" y="540" font-size="19.7" font-weight="400" text-anchor="start" fill="#111" textLength="23.94" lengthAdjust="spacingAndGlyphs" stroke="#111" stroke-width="0.3">up</text>
<text x="419.4" y="563" font-size="19.7" font-weight="400" text-anchor="start" fill="#111" textLength="61.65" lengthAdjust="spacingAndGlyphs" stroke="#111" stroke-width="0.3">festive</text>
<text x="485.5" y="563" font-size="19.7" font-weight="400" text-anchor="start" fill="#111" textLength="76.72" lengthAdjust="spacingAndGlyphs" stroke="#111" stroke-width="0.3">demand</text>
<polyline points="427.1,516.2 475.6,516.2 487.7,502.2 497.6,516.2 544.6,516.2" fill="none" stroke="#d6d6d6" stroke-width="1.1"/>
<text x="581.5" y="207" font-size="19.7" font-weight="400" text-anchor="start" fill="#111" textLength="48.1" lengthAdjust="spacingAndGlyphs" stroke="#111" stroke-width="0.3">Steel</text>
<text x="633.7" y="207" font-size="19.7" font-weight="400" text-anchor="start" fill="#111" textLength="69.33" lengthAdjust="spacingAndGlyphs" stroke="#111" stroke-width="0.3">exports</text>
<text x="572.55" y="230" font-size="19.7" font-weight="400" text-anchor="start" fill="#111" textLength="21.89" lengthAdjust="spacingAndGlyphs" stroke="#111" stroke-width="0.3">hit</text>
<text x="600.1" y="230" font-size="19.7" font-weight="400" text-anchor="start" fill="#111" textLength="19.67" lengthAdjust="spacingAndGlyphs" stroke="#111" stroke-width="0.3">all</text>
<text x="625.0" y="230" font-size="19.7" font-weight="400" text-anchor="start" fill="#111" textLength="39.35" lengthAdjust="spacingAndGlyphs" stroke="#111" stroke-width="0.3">time</text>
<text x="669.07" y="230" font-size="19.7" font-weight="400" text-anchor="start" fill="#111" textLength="42.0" lengthAdjust="spacingAndGlyphs" stroke="#111" stroke-width="0.3">high</text>
<polyline points="550.8,248 619.8,248 634.4,259.8 651,248 722.5,248" fill="none" stroke="#d6d6d6" stroke-width="1.1"/>
<text x="683.02" y="149" font-size="19.7" font-weight="400" text-anchor="start" fill="#111" textLength="76.8" lengthAdjust="spacingAndGlyphs" stroke="#111" stroke-width="0.3">Russian</text>
<text x="762.9" y="149" font-size="19.7" font-weight="400" text-anchor="start" fill="#111" textLength="79.24" lengthAdjust="spacingAndGlyphs" stroke="#111" stroke-width="0.3">invasion</text>
<text x="715.2" y="172" font-size="19.7" font-weight="400" text-anchor="start" fill="#111" textLength="18.12" lengthAdjust="spacingAndGlyphs" stroke="#111" stroke-width="0.3">of</text>
<text x="737.44" y="172" font-size="19.7" font-weight="400" text-anchor="start" fill="#111" textLength="71.7" lengthAdjust="spacingAndGlyphs" stroke="#111" stroke-width="0.3">Ukraine</text>
<polyline points="701.3,181.6 750.5,181.6 761.5,194.9 773.3,181.6 826.6,181.6" fill="none" stroke="#d6d6d6" stroke-width="1.1"/>
<text x="862.02" y="311" font-size="19.7" font-weight="400" text-anchor="start" fill="#111" textLength="58.11" lengthAdjust="spacingAndGlyphs" stroke="#111" stroke-width="0.3">Indian</text>
<text x="923.4" y="311" font-size="19.7" font-weight="400" text-anchor="start" fill="#111" textLength="46.5" lengthAdjust="spacingAndGlyphs" stroke="#111" stroke-width="0.3">govt.</text>
<text x="972.7" y="311" font-size="19.7" font-weight="400" text-anchor="start" fill="#111" textLength="84.35" lengthAdjust="spacingAndGlyphs" stroke="#111" stroke-width="0.3">removed</text>
<text x="907.5" y="334" font-size="19.7" font-weight="400" text-anchor="start" fill="#111" textLength="58.14" lengthAdjust="spacingAndGlyphs" stroke="#111" stroke-width="0.3">export</text>
<text x="970.5" y="334" font-size="19.7" font-weight="400" text-anchor="start" fill="#111" textLength="40.04" lengthAdjust="spacingAndGlyphs" stroke="#111" stroke-width="0.3">tariff</text>
<polyline points="868.1,351.3 937,351.3 951.7,363.1 968.3,351.3 1040.6,351.3" fill="none" stroke="#d6d6d6" stroke-width="1.1"/>
<text x="689.02" y="471" font-size="19.7" font-weight="400" text-anchor="start" fill="#111" textLength="58.11" lengthAdjust="spacingAndGlyphs" stroke="#111" stroke-width="0.3">Indian</text>
<text x="750.3" y="471" font-size="19.7" font-weight="400" text-anchor="start" fill="#111" textLength="47.23" lengthAdjust="spacingAndGlyphs" stroke="#111" stroke-width="0.3">govt.</text>
<text x="800.5" y="471" font-size="19.7" font-weight="400" text-anchor="start" fill="#111" textLength="103.73" lengthAdjust="spacingAndGlyphs" stroke="#111" stroke-width="0.3">announces</text>
<text x="745.3" y="494" font-size="19.7" font-weight="400" text-anchor="start" fill="#111" textLength="58.53" lengthAdjust="spacingAndGlyphs" stroke="#111" stroke-width="0.3">export</text>
<text x="809.1" y="494" font-size="19.7" font-weight="400" text-anchor="start" fill="#111" textLength="39.55" lengthAdjust="spacingAndGlyphs" stroke="#111" stroke-width="0.3">tariff</text>
<polyline points="696,448.8 782.3,448.8 801.6,431.7 818.4,448.8 900.9,448.8" fill="none" stroke="#d6d6d6" stroke-width="1.1"/>
<text x="1301.39" y="568" font-size="19.7" font-weight="400" text-anchor="start" fill="#111" textLength="45.36" lengthAdjust="spacingAndGlyphs" stroke="#111" stroke-width="0.3">Base</text>
<text x="1351.1" y="568" font-size="19.7" font-weight="400" text-anchor="start" fill="#111" textLength="50.55" lengthAdjust="spacingAndGlyphs" stroke="#111" stroke-width="0.3">Value</text>
<text x="1404.9" y="568" font-size="19.7" font-weight="400" text-anchor="start" fill="#111" textLength="38.27" lengthAdjust="spacingAndGlyphs" stroke="#111" stroke-width="0.3">100,</text>
<text x="1447.4" y="568" font-size="19.7" font-weight="400" text-anchor="start" fill="#111" textLength="10.85" lengthAdjust="spacingAndGlyphs" stroke="#111" stroke-width="0.3">3</text>
<text x="1463.9" y="568" font-size="19.7" font-weight="400" text-anchor="start" fill="#111" textLength="58.15" lengthAdjust="spacingAndGlyphs" stroke="#111" stroke-width="0.3">Jan'20</text>
<rect x="413.1" y="157" width="270.8" height="617.7" fill="#d9d9d9" fill-opacity="0.25"/>
<rect x="961.1" y="157" width="270.8" height="617.7" fill="#d9d9d9" fill-opacity="0.25"/>
<text x="17.5" y="832" font-size="20.1" font-weight="400" text-anchor="start" fill="#111" textLength="23.25" lengthAdjust="spacingAndGlyphs" stroke="#111" stroke-width="0.3">As</text>
<text x="46.4" y="832" font-size="20.1" font-weight="400" text-anchor="start" fill="#111" textLength="90.66" lengthAdjust="spacingAndGlyphs" stroke="#111" stroke-width="0.3">assessed</text>
<text x="140.6" y="832" font-size="20.1" font-weight="400" text-anchor="start" fill="#111" textLength="23.64" lengthAdjust="spacingAndGlyphs" stroke="#111" stroke-width="0.3">on</text>
<text x="166.34" y="832" font-size="20.1" font-weight="400" text-anchor="start" fill="#111" textLength="98.14" lengthAdjust="spacingAndGlyphs" stroke="#111" stroke-width="0.3">21-Feb-25</text>
<text x="278.6" y="832" font-size="20.1" font-weight="400" text-anchor="start" fill="#111" textLength="6.26" lengthAdjust="spacingAndGlyphs" stroke="#111" stroke-width="0.3">|</text>
<text x="301.6" y="832" font-size="20.1" font-weight="400" text-anchor="start" fill="#111" textLength="74.4" lengthAdjust="spacingAndGlyphs" stroke="#111" stroke-width="0.3">Source:</text>
<text x="379.22" y="832" font-size="20.1" font-weight="400" text-anchor="start" fill="#111" textLength="72.23" lengthAdjust="spacingAndGlyphs" stroke="#111" stroke-width="0.3">BigMint</text>
<g transform="translate(1283,5) scale(0.16849)">
<circle cx="197" cy="186" r="133" fill="#064eae"/>
<circle cx="135" cy="130" r="31" fill="#fff"/><circle cx="259" cy="130" r="31" fill="#fff"/>
<polygon points="105,172 160,172 197,295 234,172 289,172 299,282 299,335 96,335 96,282" fill="#fff"/>
<polygon points="147,268 138,314 164,324" fill="#064eae"/><polygon points="247,265 256,314 231,322" fill="#064eae"/>
</g>
<g transform="translate(1283,5) scale(0.16849)" fill="#064eae">
<path fill-rule="evenodd" d="M412,143 H488 Q531,143 531,180 Q531,203 511,212 Q542,222 542,245 Q542,280 494,280 H412 Z M451,172 V199 H482 Q495,199 495,185.5 Q495,172 482,172 Z M451,226 V252 H487 Q503,252 503,239 Q503,226 487,226 Z"/>
<rect x="590" y="143" width="40" height="137"/>
<path d="M796,182 A51,51 0 1 0 796,243" fill="none" stroke="#064eae" stroke-width="38"/>
<path d="M778,212 H815 V262 L790,270 L778,250 Z"/>
<path d="M868,280 V143 H900 L943,216 L986,143 H1018 V280 H983 V206 L952,259 H934 L903,206 V280 Z"/>
<rect x="1075" y="143" width="36" height="137"/>
<path d="M1165,280 V143 H1196 L1254,218 V143 H1290 V280 H1259 L1201,205 V280 Z"/>
<path d="M1343,143 H1462 V173 H1421 V280 H1384 V173 H1343 Z"/>
</g>
</svg></body></html>
